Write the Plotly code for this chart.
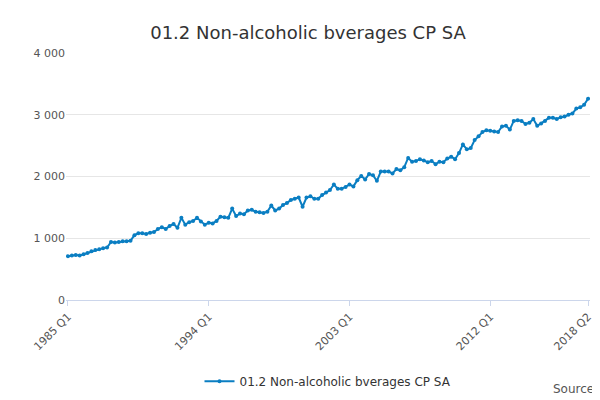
import plotly.graph_objects as go

# -------------------------------
# Data (quarterly, 1985 Q1 - 2018 Q2)
# -------------------------------

quarters = [f"{y} Q{q}" for y in range(1985, 2019) for q in range(1, 5)][:134]

values = [
    710, 720, 730, 720, 740, 760, 790, 810,
    820, 840, 850, 940, 930, 940, 950, 950,
    960, 1050, 1080, 1080, 1070, 1090, 1100, 1150,
    1180, 1150, 1200, 1230, 1170, 1330, 1220, 1260,
    1280, 1330, 1270, 1220, 1250, 1240, 1280, 1350,
    1340, 1330, 1480, 1360, 1400, 1390, 1450, 1460,
    1430, 1420, 1410, 1430, 1530, 1450, 1480, 1540,
    1570, 1620, 1640, 1660, 1510, 1660, 1680, 1640,
    1640, 1700, 1740, 1780, 1870, 1800, 1800, 1830,
    1870, 1840, 1940, 2010, 1950, 2040, 2020, 1930,
    2080, 2080, 2080, 2050, 2120, 2100, 2150, 2300,
    2240, 2250, 2280, 2260, 2230, 2250, 2200, 2240,
    2230, 2290, 2320, 2280, 2380, 2520, 2440, 2460,
    2590, 2650, 2720, 2750, 2740, 2730, 2720, 2810,
    2820, 2760, 2900, 2910, 2900, 2850, 2870, 2930,
    2820, 2860, 2900, 2950, 2950, 2930, 2960, 2970,
    3000, 3020, 3100, 3120, 3160, 3260,
]

tick_labels = ["1985 Q1", "1994 Q1", "2003 Q1", "2012 Q1", "2018 Q2"]

# -------------------------------
# Plot
# -------------------------------

fig = go.Figure()

fig.add_trace(
    go.Scatter(
        x=quarters,
        y=values,
        mode="lines+markers",
        line=dict(color="#0a7ec2", width=2),
        marker=dict(size=4, color="#0a7ec2"),
        name="01.2 Non-alcoholic bverages CP SA",
    )
)

fig.update_layout(
    width=600,
    height=400,
    title=dict(text="01.2 Non-alcoholic bverages CP SA", x=0.5, y=0.955,
               font=dict(size=18, color="#333333")),
    font=dict(family="DejaVu Sans", color="#555555", size=11),
    plot_bgcolor="white",
    paper_bgcolor="white",
    margin=dict(l=58, r=18, t=45, b=103),
    xaxis=dict(
        type="category",
        tickmode="array",
        tickvals=tick_labels,
        ticktext=tick_labels,
        tickangle=-45,
        showgrid=False,
        showline=True,
        linecolor="#ccd6eb",
        ticks="outside",
        tickcolor="#ccd6eb",
        range=[-0.5, 133.5],
    ),
    yaxis=dict(
        range=[0, 4000],
        tickvals=[0, 1000, 2000, 3000, 4000],
        ticktext=["0", "1 000", "2 000", "3 000", "4 000"],
        gridcolor="#e6e6e6",
        zeroline=False,
    ),
    showlegend=True,
    legend=dict(orientation="h", x=0.5, xanchor="center", y=-0.27,
                font=dict(size=12, color="#333333")),
    annotations=[
        dict(text="Source:", xref="paper", yref="paper", x=1.0, y=-0.36,
             xanchor="right", yanchor="middle", xshift=10, showarrow=False,
             font=dict(size=12, color="#555555"))
    ],
)

fig.write_html("out.html")
